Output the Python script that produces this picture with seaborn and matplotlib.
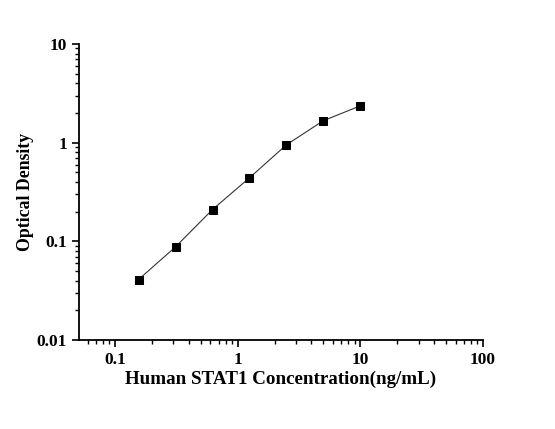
import matplotlib
matplotlib.use("Agg")
import matplotlib.pyplot as plt
import seaborn as sns
import pandas as pd
from matplotlib.ticker import FixedLocator, FixedFormatter, LogLocator, NullFormatter

# === Standard curve data ===
concentration = [0.156, 0.3125, 0.625, 1.25, 2.5, 5, 10]
optical_density = [0.041, 0.088, 0.21, 0.44, 0.95, 1.67, 2.36]

x_ticks = [0.1, 1, 10, 100]
x_labels = ["0.1", "1", "10", "100"]
y_ticks = [0.01, 0.1, 1, 10]
y_labels = ["0.01", "0.1", "1", "10"]

df = pd.DataFrame({"conc": concentration, "od": optical_density})

sns.set_style("ticks", {"axes.edgecolor": "black", "text.color": "black",
                        "xtick.color": "black", "ytick.color": "black",
                        "axes.labelcolor": "black"})
plt.rcParams["font.family"] = ["Liberation Serif", "DejaVu Serif"]
plt.rcParams["font.weight"] = "bold"

fig = plt.figure(figsize=(5.55, 4.29), dpi=100)
ax = fig.add_axes([0.1423, 0.2075, 0.7280, 0.6900])

sns.lineplot(data=df, x="conc", y="od", ax=ax, color="#333333", linewidth=0.8,
             marker="s", markersize=6, markerfacecolor="black",
             markeredgecolor="black")

ax.set_xscale("log")
ax.set_yscale("log")
ax.set_xlim(0.051, 100)
ax.set_ylim(0.01, 10)

ax.xaxis.set_major_locator(FixedLocator(x_ticks))
ax.xaxis.set_major_formatter(FixedFormatter(x_labels))
ax.yaxis.set_major_locator(FixedLocator(y_ticks))
ax.yaxis.set_major_formatter(FixedFormatter(y_labels))
ax.xaxis.set_minor_locator(LogLocator(base=10, subs=range(2, 10)))
ax.yaxis.set_minor_locator(LogLocator(base=10, subs=range(2, 10)))
ax.xaxis.set_minor_formatter(NullFormatter())
ax.yaxis.set_minor_formatter(NullFormatter())

ax.tick_params(which="major", direction="out", length=5, width=1.2, labelsize=12.5,
               colors="black")
ax.tick_params(which="minor", direction="out", length=3, width=1, colors="black")
for lbl in ax.get_xticklabels() + ax.get_yticklabels():
    lbl.set_fontweight("bold")

sns.despine(ax=ax)
ax.spines["left"].set_linewidth(1.3)
ax.spines["bottom"].set_linewidth(1.3)

ax.set_xlabel("Human STAT1 Concentration(ng/mL)", fontsize=13.7, fontweight="bold",
              labelpad=2, color="black")
ax.set_ylabel("Optical Density", fontsize=12.8, fontweight="bold", labelpad=2,
              color="black")

fig.savefig("out.png", dpi=100)
